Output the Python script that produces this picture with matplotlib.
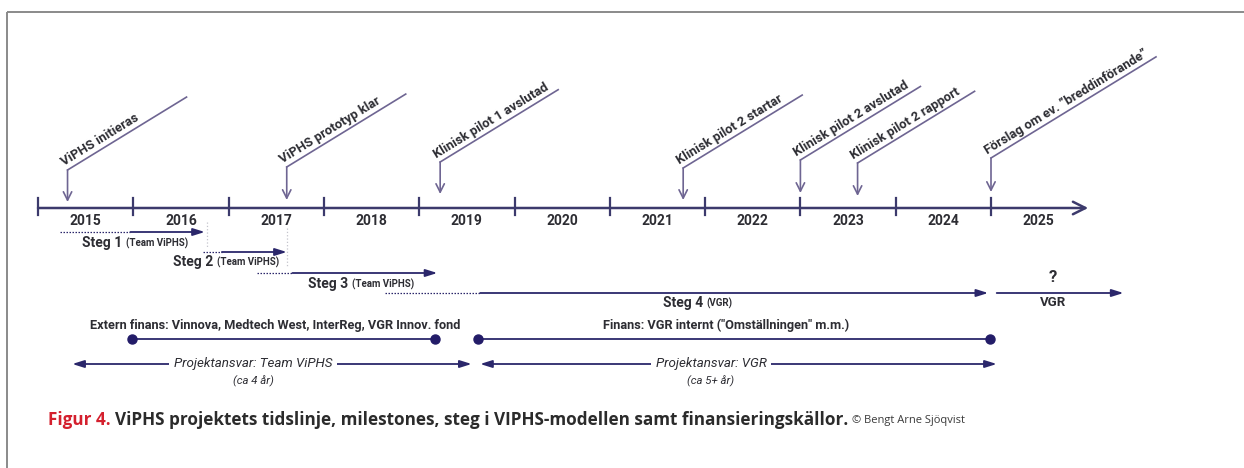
import matplotlib
matplotlib.use("Agg")
import matplotlib.pyplot as plt
import numpy as np

# ---------------- data ----------------
year_labels = ["2015", "2016", "2017", "2018", "2019", "2020", "2021", "2022", "2023", "2024", "2025"]
year_starts = [2015, 2016, 2017, 2018, 2019, 2020, 2021, 2022, 2023, 2024, 2025]
timeline_end = 2026.02

milestone_labels = ["ViPHS initieras", "ViPHS prototyp klar", "Klinisk pilot 1 avslutad",
                    "Klinisk pilot 2 startar", "Klinisk pilot 2 avslutad",
                    "Klinisk pilot 2 rapport", "Förslag om ev. \u201dbreddinförande\u201d"]
milestone_dates = [2015.31, 2017.61, 2019.22, 2021.77, 2023.00, 2023.60, 2025.00]

step_names = ["Steg 1", "Steg 2", "Steg 3", "Steg 4"]
step_owners = ["(Team ViPHS)", "(Team ViPHS)", "(Team ViPHS)", "(VGR)"]
step_prep_start = [2015.23, 2016.73, 2017.30, 2018.64]
step_start = [2015.97, 2016.93, 2017.67, 2019.64]
step_end = [2016.75, 2017.61, 2019.19, 2024.97]
future_start, future_end = 2025.06, 2026.39
future_owner = "VGR"

funding_labels = ["Extern finans: Vinnova, Medtech West, InterReg, VGR Innov. fond",
                  "Finans: VGR internt (\"Omställningen\" m.m.)"]
funding_start = [2015.99, 2019.62]
funding_end = [2019.17, 2024.99]

resp_labels = ["Projektansvar: Team ViPHS", "Projektansvar: VGR"]
resp_sub = ["(ca 4 år)", "(ca 5+ år)"]
resp_start = [2015.36, 2019.64]
resp_end = [2019.55, 2025.06]

# ---------------- layout ----------------
W, H = 1244, 468
PPY = 95.3          # pixels per year
X0PX = 38           # pixel of 2015
fig = plt.figure(figsize=(W / 100, H / 100), dpi=100)
ax = fig.add_axes([0, 0, 1, 1])
ax.set_xlim(2015 - X0PX / PPY, 2015 + (W - X0PX) / PPY)
ax.set_ylim(H, 0)
ax.axis("off")

def yr(px):
    return 2015 + (px - X0PX) / PPY

FONT = "Roboto"
FW = "bold"
NAVY = "#2b276b"
AXC = "#3c3a6c"
MSC = "#6e6592"
TXT = "#2d2d33"

# frame
ax.plot([yr(7), yr(7)], [H, 12], color="#8a8a8a", lw=1.4, solid_capstyle="butt")
ax.plot([yr(7), yr(W + 5)], [12, 12], color="#8a8a8a", lw=1.4, solid_capstyle="butt")

# timeline
Y_AX = 208
ax.annotate("", xy=(timeline_end, Y_AX), xytext=(year_starts[0], Y_AX),
            arrowprops=dict(arrowstyle="->,head_length=0.9,head_width=0.45", color=AXC, lw=1.8,
                            shrinkA=0, shrinkB=0))
for ys in year_starts:
    ax.plot([ys, ys], [198, 215], color=AXC, lw=1.6)
for lab, ys in zip(year_labels, year_starts):
    ax.text(ys + 0.5, 221, lab, ha="center", va="center", fontsize=10, family=FONT,
            fontweight=FW, color=TXT)

# milestones
ms_top = [170, 167, 162, 168, 160, 163, 158]
ms_head = [202, 200, 194, 200, 193, 196, 192]
ms_len = [119, 119, 118, 119, 120, 117, 165]
ANG = 31.5
for lab, d, top, head, L in zip(milestone_labels, milestone_dates, ms_top, ms_head, ms_len):
    ax.annotate("", xy=(d, head), xytext=(d, top),
                arrowprops=dict(arrowstyle="->,head_length=0.6,head_width=0.3", color=MSC, lw=1.2,
                                shrinkA=0, shrinkB=0))
    dy = L * np.tan(np.radians(ANG))
    ax.plot([d, d + L / PPY], [top, top - dy], color=MSC, lw=1.2)
    ax.text(d - 4 / PPY, top - 4, lab, rotation=ANG, rotation_mode="anchor", ha="left", va="baseline",
            fontsize=9.4, family=FONT, fontweight=FW, color=TXT)

# guide lines
ax.plot([yr(207), yr(207)], [222, 247], color="#c4c4cc", lw=0.9, ls=":")
ax.plot([yr(287), yr(287)], [228, 266], color="#c4c4cc", lw=0.9, ls=":")

# steps
step_y = [232, 252, 273, 293]
step_txt = [(yr(82), 243), (yr(173), 262), (yr(308), 284), (yr(663), 303)]
for i in range(4):
    y = step_y[i]
    ax.plot([step_prep_start[i], step_start[i]], [y, y], color=NAVY, lw=0.9, ls=(0, (1.2, 1.2)))
    ax.annotate("", xy=(step_end[i], y), xytext=(step_start[i], y),
                arrowprops=dict(arrowstyle="-|>,head_length=0.7,head_width=0.22", color=NAVY, lw=1.3,
                                shrinkA=0, shrinkB=0))
    tx, ty = step_txt[i]
    t1 = ax.text(tx, ty, step_names[i], ha="left", va="center", fontsize=10, family=FONT,
                 fontweight=FW, color=TXT)
    ax.annotate(step_owners[i], xy=(1, 0.5), xycoords=t1, xytext=(2.5, -0.5), textcoords="offset points",
                ha="left", va="center", fontsize=7, family=FONT, fontweight=FW, color=TXT)

ax.annotate("", xy=(future_end, 293), xytext=(future_start, 293),
            arrowprops=dict(arrowstyle="-|>,head_length=0.7,head_width=0.22", color=NAVY, lw=1.3,
                            shrinkA=0, shrinkB=0))
ax.text(yr(1053), 277, "?", ha="center", va="center", fontsize=12, family=FONT,
        fontweight=FW, color=TXT)
ax.text(yr(1053), 302, future_owner, ha="center", va="center", fontsize=9.5, family=FONT,
        fontweight=FW, color=TXT)

# funding
fund_text_x = [yr(275), yr(726)]
for lab, s, e, tx in zip(funding_labels, funding_start, funding_end, fund_text_x):
    ax.plot([s, e], [339, 339], color=NAVY, lw=1.3, marker="o", markersize=6.5,
            markevery=[0, 1], markerfacecolor="#231c68", markeredgecolor="#231c68")
    ax.text(tx, 325, lab, ha="center", va="center", fontsize=9.2, family=FONT,
            fontweight=FW, color=TXT)

# responsibility
resp_text_x = [yr(253), yr(711)]
for lab, sub, s, e, tx in zip(resp_labels, resp_sub, resp_start, resp_end, resp_text_x):
    ax.annotate("", xy=(e, 364), xytext=(s, 364),
                arrowprops=dict(arrowstyle="<|-|>,head_length=0.7,head_width=0.22", color=NAVY, lw=1.3,
                                shrinkA=0, shrinkB=0))
    ax.text(tx, 364, lab, ha="center", va="center", fontsize=9.6, family=FONT, style="italic",
            fontweight="normal", color=TXT, bbox=dict(boxstyle="square,pad=0.35", fc="white", ec="none"))
    ax.text(tx, 381, sub, ha="center", va="center", fontsize=8.2, family=FONT, style="italic",
            color=TXT)

# caption
cap1 = ax.text(yr(48), 420, "Figur 4.", ha="left", va="center", fontsize=12.3, family="Open Sans",
               fontweight="bold", color="#d4202e")
cap2 = ax.annotate("ViPHS projektets tidslinje, milestones, steg i VIPHS-modellen samt finansieringskällor.",
                   xy=(1, 0.5), xycoords=cap1, xytext=(3, 0), textcoords="offset points",
                   ha="left", va="center", fontsize=12.3, family="Open Sans", fontweight="bold",
                   color="#2b2b2b")
ax.annotate("\u00a9 Bengt Arne Sjöqvist", xy=(1, 0.5), xycoords=cap2, xytext=(3, -0.5),
            textcoords="offset points", ha="left", va="center", fontsize=8,
            family="Open Sans", color="#3a3a3a")

fig.savefig("out.png", dpi=100, facecolor="white")
